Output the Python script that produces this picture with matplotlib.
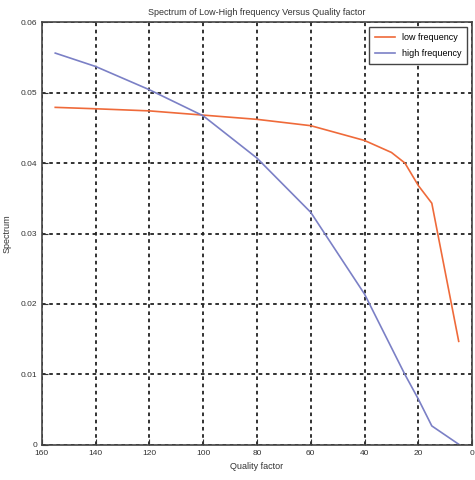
import numpy as np
import matplotlib.pyplot as plt

plt.rcParams['font.family'] = ['Liberation Sans', 'DejaVu Sans']

quality = [155, 140, 120, 100, 80, 60, 40, 30, 25, 20, 15, 5]
low_freq = [0.0479, 0.0477, 0.0474, 0.0468, 0.0462, 0.0453, 0.0432, 0.0415, 0.0400, 0.0368, 0.0343, 0.0147]
high_freq = [0.0556, 0.0537, 0.0504, 0.0467, 0.0407, 0.0330, 0.0214, 0.0138, 0.0100, 0.0065, 0.0027, 0.0001]

xticks = np.arange(0, 161, 20)
yticks = [0, 0.01, 0.02, 0.03, 0.04, 0.05, 0.06]
ylabels = ['0', '0.01', '0.02', '0.03', '0.04', '0.05', '0.06']

fig = plt.figure(figsize=(4.75, 4.8), dpi=100)
ax = fig.add_axes([0.088, 0.073, 0.906, 0.881])

ax.plot(quality, low_freq, color='#ef6a3a', lw=1.2, label='low frequency')
ax.plot(quality, high_freq, color='#7b80c6', lw=1.2, label='high frequency')

ax.set_xlim(160, 0)
ax.set_ylim(0, 0.06)
ax.set_xticks(xticks)
ax.set_yticks(yticks)
ax.set_yticklabels(ylabels)
ax.tick_params(direction='in', labelsize=6, colors='#333333', length=4)
ax.grid(True, color='#222222', linestyle=(0, (2, 2)), linewidth=1.3)
for s in ax.spines.values():
    s.set_color('#444444')
    s.set_linewidth(1.2)

ax.set_title("Spectrum of Low-High frequency Versus Quality factor", fontsize=6.5, color='#333333', pad=5)
ax.set_xlabel("Quality factor", fontsize=6.5, color='#333333', labelpad=4)
ax.set_ylabel("Spectrum", fontsize=6.5, color='#333333', labelpad=6)

leg = ax.legend(loc='upper right', fontsize=6.5, fancybox=False, framealpha=1,
                edgecolor='#444444', borderaxespad=0.6, handlelength=2.2,
                labelspacing=0.8, borderpad=0.6)
leg.get_frame().set_linewidth(1.0)

fig.savefig('out.png', dpi=100)
